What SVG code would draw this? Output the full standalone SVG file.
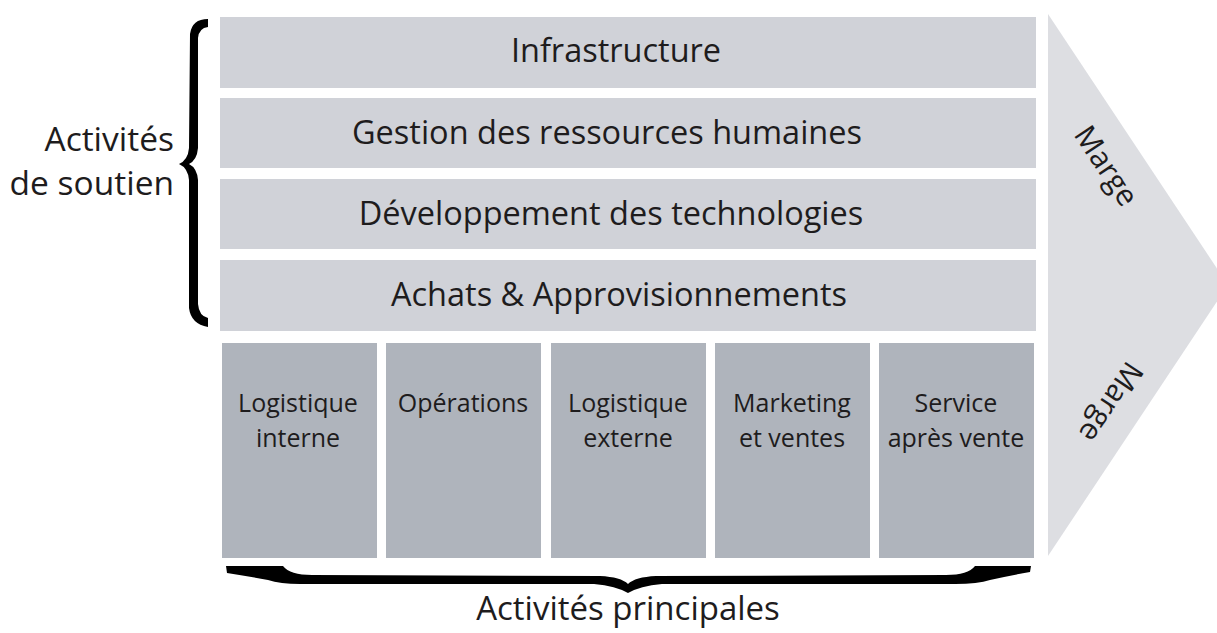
<svg xmlns="http://www.w3.org/2000/svg" width="1217" height="633" viewBox="0 0 1217 633">
<style>
.t{font-family:"Open Sans","Noto Sans",sans-serif;fill:#1e1c1d;text-anchor:middle}
.sup{fill:#d0d2d8}
.pri{fill:#afb4bc}
.big{font-size:32.5px}
.mid{font-size:25px}
</style>
<rect width="1217" height="633" fill="#ffffff"/>
<g id="marge-arrow">
<polygon points="1048,14 1228,285 1048,556" fill="#dddee2"/>
<text class="t" style="font-size:30px" transform="translate(1106,166) rotate(56.4)" y="10">Marge</text>
<text class="t" style="font-size:30px" transform="translate(1111,402) rotate(123.6)" y="10">Marge</text>
</g>
<g id="infrastructure">
<rect class="sup" x="220" y="17" width="816" height="71"/>
<text class="t big" x="616" y="62">Infrastructure</text>
</g>
<g id="grh">
<rect class="sup" x="220" y="98" width="816" height="70"/>
<text class="t big" x="607" y="144">Gestion des ressources humaines</text>
</g>
<g id="technologies">
<rect class="sup" x="220" y="179" width="816" height="70"/>
<text class="t big" x="611" y="225">Développement des technologies</text>
</g>
<g id="achats">
<rect class="sup" x="220" y="260" width="816" height="71"/>
<text class="t big" x="619" y="306">Achats &amp; Approvisionnements</text>
</g>
<g id="logistique-interne">
<rect class="pri" x="222" y="343" width="155" height="215"/>
<text class="t mid" x="298" y="412">Logistique</text>
<text class="t mid" x="298" y="447">interne</text>
</g>
<g id="operations">
<rect class="pri" x="386" y="343" width="155" height="215"/>
<text class="t mid" x="463" y="412">Opérations</text>
</g>
<g id="logistique-externe">
<rect class="pri" x="551" y="343" width="155" height="215"/>
<text class="t mid" x="628" y="412">Logistique</text>
<text class="t mid" x="628" y="447">externe</text>
</g>
<g id="marketing">
<rect class="pri" x="715" y="343" width="155" height="215"/>
<text class="t mid" x="792" y="412">Marketing</text>
<text class="t mid" x="792" y="447">et ventes</text>
</g>
<g id="service">
<rect class="pri" x="879" y="343" width="155" height="215"/>
<text class="t mid" x="956" y="412">Service</text>
<text class="t mid" x="956" y="447">après vente</text>
</g>
<g id="activites-soutien">
<path d="M208,19 Q192,19 190,34 L189,148 Q188,160 179,164 Q188,168 189,180 L189,308 Q191,324 208,327 L208,318 Q199,316 198,304 L198,180 Q197,168 189,164 Q197,160 198,148 L198,38 Q199,28 208,27 Z" fill="#000"/>
<text class="t" style="font-size:33.5px;text-anchor:end" x="174" y="151">Activités</text>
<text class="t" style="font-size:33.5px;text-anchor:end" x="174" y="195">de soutien</text>
</g>
<g id="activites-principales">
<path d="M226,566 L283,566 Q290,575 312,575 L600,576 Q621,577 628,584 Q635,577 656,576 L946,575 Q968,575 975,566 L1031,566 L1030,572 Q1008,576 990,580 Q978,584 955,584 L662,584 Q640,586 628,593 Q616,586 594,584 L300,584 Q280,584 268,580 Q246,576 227,573 Z" fill="#000"/>
<text class="t" style="font-size:33px" x="628" y="620">Activités principales</text>
</g>
</svg>
